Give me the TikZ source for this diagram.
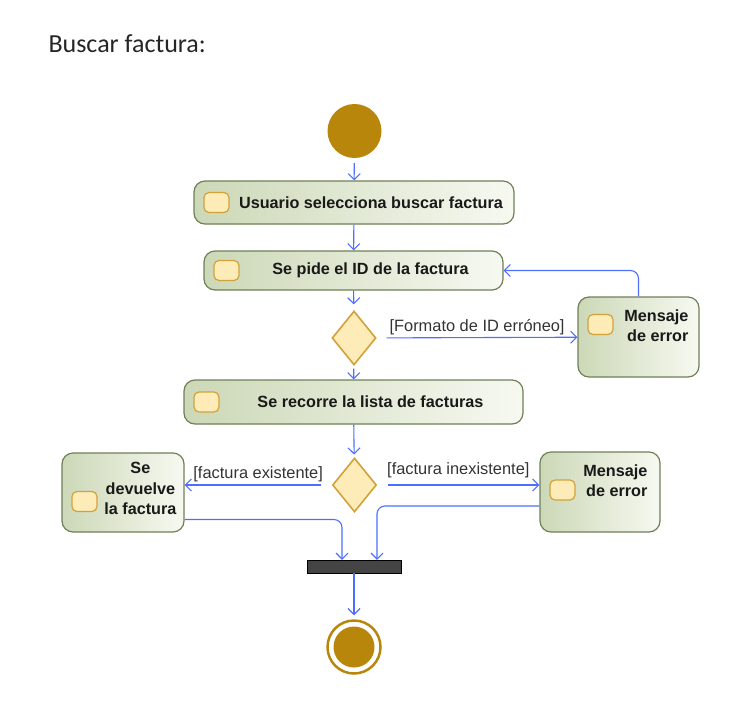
\documentclass[tikz,border=0pt]{standalone}
\usepackage{fontspec}
\setmainfont{Liberation Sans}
\newfontfamily\titlefont{Carlito}
\usetikzlibrary{arrows.meta,shapes.geometric}
\definecolor{umlgold}{HTML}{B8860B}
\definecolor{boxline}{HTML}{6E8057}
\definecolor{boxgreen}{HTML}{CCD8B7}
\definecolor{boxlight}{HTML}{F7F9F1}
\definecolor{iconfill}{HTML}{FDEBB8}
\definecolor{iconline}{HTML}{D2A23A}
\definecolor{flowblue}{HTML}{4D6EFF}
\definecolor{bargray}{HTML}{444444}
\begin{document}
\begin{tikzpicture}[x=1pt,y=-1pt,
  icon/.style={draw=iconline, fill=iconfill, rounded corners=5pt, line width=1.2pt},
  action/.style={draw=boxline, line width=1.2pt, rounded corners=11pt, left color=boxgreen, right color=boxlight,
    font=\fontsize{16.2}{20.5}\selectfont\bfseries, text=black!90, inner sep=0pt,
    path picture={\draw[icon] ([shift={(10pt,#1)}]path picture bounding box.west) rectangle ++(25pt,-20pt);}},
  action/.default=10pt,
  boxtext/.style={font=\fontsize{16.2}{20.5}\selectfont\bfseries, text=black!90, align=right, anchor=north east},
  decision/.style={diamond, draw=iconline, fill=iconfill, line width=1.6pt, minimum width=44pt, minimum height=54pt, inner sep=0pt},
  start/.style={circle, fill=umlgold, minimum size=54pt, inner sep=0pt},
  stop/.style={circle, draw=umlgold, line width=2.5pt, fill=white, minimum size=53pt, inner sep=0pt,
    path picture={\fill[umlgold] (path picture bounding box.center) circle (20.5pt);}},
  bar/.style={rectangle, draw=black, fill=bargray, minimum width=94pt, minimum height=13pt, inner sep=0pt},
  flow/.style={draw=flowblue, line width=1.1pt, -{Straight Barb[length=6pt,width=12pt]}},
  guard/.style={font=\fontsize{16.4}{19}\selectfont, text=black!80, inner sep=2pt}]
  \useasboundingbox (0,0) rectangle (739,702);

  \node[font=\titlefont\fontsize{26}{30}\selectfont, text=black!85, anchor=base west] (title) at (45,52) {Buscar factura:};

  \node[start] (0) at (354.5,131) {};
  \node[action, minimum width=320pt, minimum height=43pt] (1) at (354,202.5) {\hspace{34pt}Usuario selecciona buscar factura};
  \node[action, minimum width=299pt, minimum height=39pt] (2) at (353.5,270.5) {\hspace{34pt}Se pide el ID de la factura};
  \node[decision] (3) at (354,338) {};
  \node[action=22.5pt, minimum width=121pt, minimum height=80pt,
    label={[boxtext, inner sep=10pt, xshift=-1pt, yshift=-3pt]north east:Mensaje\\de error}] (4) at (638.5,337) {};
  \node[action, minimum width=339pt, minimum height=44pt] (5) at (353.5,402) {\hspace{34pt}Se recorre la lista de facturas};
  \node[decision] (6) at (354.5,485) {};
  \node[action=1pt, minimum width=122pt, minimum height=79pt,
    label={[boxtext, align=center, inner sep=6pt, xshift=-2pt, yshift=-4pt]north east:Se\\devuelve\\la factura}] (7) at (123,492.5) {};
  \node[action=12pt, minimum width=120pt, minimum height=80pt,
    label={[boxtext, inner sep=10pt, xshift=-3pt, yshift=-3pt]north east:Mensaje\\de error}] (8) at (600,492) {};
  \node[bar] (9) at (354,566.5) {};
  \node[stop] (10) at (354,647) {};

  \draw[flow, shorten <=5pt] (0) -- (1);
  \draw[flow] (1) -- (2);
  \draw[flow, shorten >=6pt] (2) -- (3);
  \draw[flow, shorten <=10pt] (3) -- node[guard, above] {[Formato de ID erróneo]} (4);
  \draw[flow, rounded corners=8pt] (4.north) |- (2.east);
  \draw[flow, shorten <=3pt] (3) -- (5);
  \draw[flow, shorten >=3pt] (5) -- (6);
  \draw[flow, shorten <=11pt] (6.west) -- node[guard, above, yshift=1pt] {[factura existente]} (7.east |- 6.west);
  \draw[flow, shorten <=11pt] (6.east) -- node[guard, above, yshift=5pt] {[factura inexistente]} (8.west |- 6.east);
  \draw[flow, rounded corners=8pt] ([yshift=-27pt]7.east) -| ([xshift=-12pt]9.north);
  \draw[flow, rounded corners=8pt] ([yshift=-14pt]8.west) -| ([xshift=23pt]9.north);
  \draw[flow, shorten >=4pt] (9) -- (10);
\end{tikzpicture}
\end{document}
